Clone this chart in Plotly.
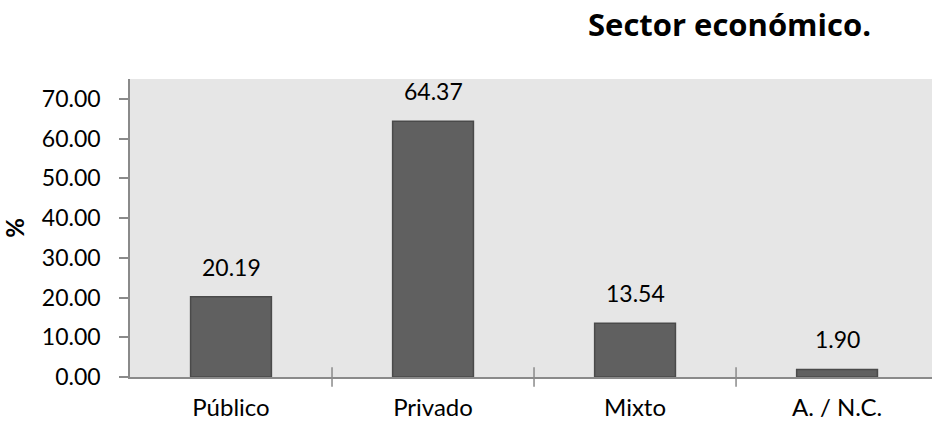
import plotly.graph_objects as go

# Distribución por sector económico (%)
categories = ["Público", "Privado", "Mixto", "A. / N.C."]
values = [20.19, 64.37, 13.54, 1.90]
y_ticks = [0, 10, 20, 30, 40, 50, 60, 70]

FONT = "Lato"
AXIS_COLOR = "#8a8a8a"

fig = go.Figure()
fig.add_trace(go.Bar(
    x=list(range(len(categories))),
    y=values,
    width=0.4,
    marker=dict(color="#606060", line=dict(color="#4a4a4a", width=1.5)),
    hoverinfo="skip",
))

# Etiquetas de valor sobre cada barra
for i, v in enumerate(values):
    fig.add_annotation(
        x=i, y=v, text=f"{v:.2f}", showarrow=False,
        yanchor="bottom", yshift=14,
        font=dict(family=FONT, size=23, color="#000000"),
    )

fig.update_layout(
    width=932, height=425,
    margin=dict(l=130, r=0, t=79, b=48, autoexpand=False),
    paper_bgcolor="#ffffff",
    plot_bgcolor="#e6e6e6",
    showlegend=False,
    bargap=0.6,
    font=dict(family=FONT, size=23, color="#000000"),
)

fig.add_annotation(
    text="<b>Sector económico.</b>", xref="paper", yref="paper",
    x=0.927, y=1, xanchor="right", yanchor="bottom", yshift=32,
    showarrow=False, font=dict(family="Open Sans", size=31, color="#000000"),
)

fig.update_xaxes(
    range=[-0.5, 3.47],
    tickmode="array",
    tickvals=list(range(len(categories))),
    ticktext=categories,
    showgrid=False, zeroline=False,
    showline=True, linecolor=AXIS_COLOR, linewidth=1.5,
    ticks="", ticklabelstandoff=8, automargin=False,
    tickfont=dict(family=FONT, size=24),
)

# Marcas de división entre categorías
fig.add_trace(go.Scatter(
    x=[0.5, 1.5, 2.5], y=[0, 0, 0], mode="markers",
    marker=dict(symbol="line-ns", size=14, line=dict(color=AXIS_COLOR, width=1.5)),
    hoverinfo="skip", cliponaxis=False,
))

fig.update_yaxes(
    range=[0, 75],
    tickmode="array", tickvals=y_ticks,
    ticktext=[f"{t:.2f}" for t in y_ticks],
    showgrid=False, zeroline=False,
    showline=True, linecolor=AXIS_COLOR, linewidth=1.5,
    ticks="outside", ticklen=9, tickcolor=AXIS_COLOR, tickwidth=1.5,
    ticklabelstandoff=14, automargin=False,
    tickfont=dict(family=FONT, size=23),
    title=dict(text="<b>%</b>", font=dict(family=FONT, size=24), standoff=10),
)

fig.write_html("out.html")
